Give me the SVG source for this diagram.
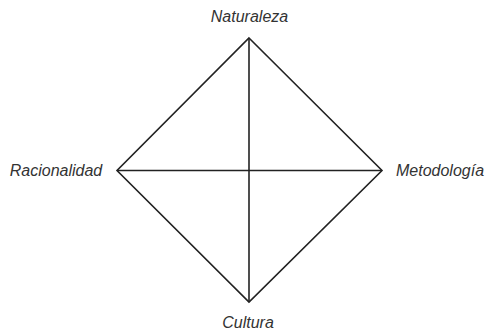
<svg xmlns="http://www.w3.org/2000/svg" width="488" height="334" viewBox="0 0 488 334">
<style>
.lbl{font-family:"Liberation Sans",Arial,sans-serif;font-style:italic;font-size:16px;fill:#333;text-anchor:middle}
.edge{stroke:#222;stroke-width:1.6;fill:none;stroke-linejoin:miter}
</style>
<rect width="488" height="334" fill="#fff"/>
<g id="connectors">
<path class="edge" d="M249,38 L382,170.5 L249,302 L117,170.5 Z"/>
<line class="edge" x1="249" y1="38" x2="249" y2="302"/>
<line class="edge" x1="117" y1="170.5" x2="382" y2="170.5"/>
</g>
<g id="naturaleza"><text class="lbl" x="249.5" y="22">Naturaleza</text></g>
<g id="racionalidad"><text class="lbl" x="56" y="176">Racionalidad</text></g>
<g id="metodologia"><text class="lbl" x="440" y="176">Metodología</text></g>
<g id="cultura"><text class="lbl" x="248" y="328">Cultura</text></g>
</svg>
